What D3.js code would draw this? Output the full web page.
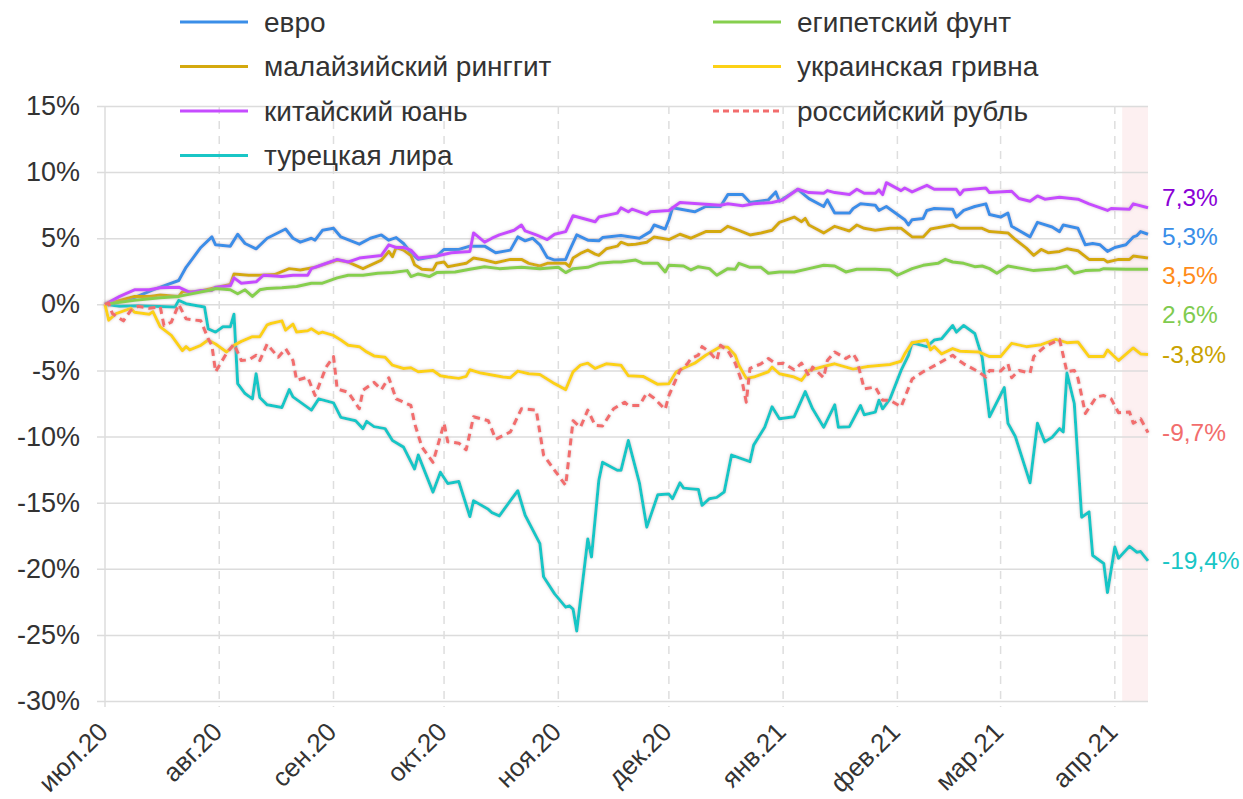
<!DOCTYPE html>
<html>
<head>
<meta charset="utf-8">
<script src="https://cdn.jsdelivr.net/npm/d3@7"></script>
<style>
  body { margin: 0; background: #fff; }
  svg { font-family: "Liberation Sans", Arial, sans-serif; }
</style>
</head>
<body>
<svg id="chart" width="1243" height="799"></svg>
<script>
// currency names in draw / legend order
names = ["евро", "малайзийский ринггит", "китайский юань", "турецкая лира",
         "египетский фунт", "украинская гривна", "российский рубль"];
lineColors = ["#3a8ee8", "#d4a90e", "#c64cff", "#19c6c6", "#86cf4e", "#fcd116", "#f26d6d"];
labelColors = ["#3a8ee8", "#ff8c1a", "#8a00d6", "#19c6c6", "#7fcb4f", "#c9a200", "#f26d6d"];
monthLabels = ["июл.20", "авг.20", "сен.20", "окт.20", "ноя.20", "дек.20",
               "янв.21", "фев.21", "мар.21", "апр.21"];
yTicks = [15, 10, 5, 0, -5, -10, -15, -20, -25, -30];
startDate = "2020-07-01";
endDate = "2021-04-10";
highlightStart = "2021-04-03";

euro = [["2020-07-01",0],["2020-07-09",0.5],["2020-07-14",1.1],["2020-07-21",1.8],["2020-07-23",2.8],["2020-07-27",4.3],["2020-07-30",5.1],["2020-07-31",4.5],["2020-08-04",4.4],["2020-08-06",5.3],["2020-08-08",4.6],["2020-08-11",4.2],["2020-08-14",5.0],["2020-08-19",5.7],["2020-08-21",5.0],["2020-08-23",4.7],["2020-08-26",5.0],["2020-08-27",4.85],["2020-08-29",5.6],["2020-09-01",5.75],["2020-09-03",5.1],["2020-09-08",4.55],["2020-09-11",5.0],["2020-09-14",5.25],["2020-09-16",4.85],["2020-09-18",5.05],["2020-09-20",4.6],["2020-09-22",3.9],["2020-09-24",3.4],["2020-09-29",3.65],["2020-10-01",4.15],["2020-10-05",4.15],["2020-10-08",4.4],["2020-10-12",4.4],["2020-10-15",3.9],["2020-10-19",4.1],["2020-10-21",5.1],["2020-10-23",4.8],["2020-10-25",5.0],["2020-10-27",4.5],["2020-10-29",3.55],["2020-10-31",3.35],["2020-11-03",3.4],["2020-11-04",4.05],["2020-11-06",5.25],["2020-11-09",4.85],["2020-11-12",4.8],["2020-11-13",5.05],["2020-11-18",5.2],["2020-11-23",5.0],["2020-11-26",5.5],["2020-11-27",6.0],["2020-11-30",5.7],["2020-12-01",6.4],["2020-12-02",7.3],["2020-12-08",7.0],["2020-12-11",7.4],["2020-12-15",7.4],["2020-12-17",8.3],["2020-12-21",8.3],["2020-12-23",7.7],["2020-12-28",7.9],["2020-12-30",8.5],["2020-12-31",7.8],["2021-01-05",8.7],["2021-01-08",8.0],["2021-01-12",7.4],["2021-01-13",7.9],["2021-01-15",6.9],["2021-01-19",6.9],["2021-01-20",7.25],["2021-01-22",7.6],["2021-01-26",7.5],["2021-01-27",7.1],["2021-01-29",7.4],["2021-02-03",6.4],["2021-02-04",6.0],["2021-02-05",6.4],["2021-02-08",6.5],["2021-02-09",7.1],["2021-02-11",7.25],["2021-02-16",7.2],["2021-02-17",6.6],["2021-02-19",7.1],["2021-02-22",7.4],["2021-02-25",7.6],["2021-02-26",6.8],["2021-03-01",6.6],["2021-03-03",6.9],["2021-03-04",5.9],["2021-03-09",5.1],["2021-03-11",6.2],["2021-03-15",5.85],["2021-03-17",5.5],["2021-03-18",6.0],["2021-03-22",5.75],["2021-03-24",4.5],["2021-03-26",4.6],["2021-03-28",4.5],["2021-03-30",4.0],["2021-04-01",4.3],["2021-04-04",4.5],["2021-04-06",5.1],["2021-04-07",5.2],["2021-04-08",5.5],["2021-04-10",5.3]];

ringgit = [["2020-07-01",0],["2020-07-05",0.3],["2020-07-09",0.6],["2020-07-13",0.6],["2020-07-16",0.7],["2020-07-21",0.6],["2020-07-22",0.95],["2020-07-26",0.95],["2020-07-30",1.2],["2020-08-04",1.5],["2020-08-05",2.3],["2020-08-09",2.2],["2020-08-12",2.2],["2020-08-16",2.25],["2020-08-20",2.7],["2020-08-23",2.6],["2020-08-27",2.8],["2020-09-02",3.35],["2020-09-05",3.2],["2020-09-09",2.7],["2020-09-14",3.35],["2020-09-16",4.0],["2020-09-17",3.6],["2020-09-18",4.3],["2020-09-20",4.1],["2020-09-22",3.7],["2020-09-23",3.0],["2020-09-25",2.65],["2020-09-28",2.6],["2020-09-29",3.1],["2020-10-01",3.2],["2020-10-02",2.85],["2020-10-07",3.1],["2020-10-09",3.5],["2020-10-12",3.35],["2020-10-15",3.15],["2020-10-19",3.4],["2020-10-22",3.4],["2020-10-24",3.1],["2020-10-27",2.9],["2020-10-29",3.1],["2020-11-03",3.1],["2020-11-04",2.85],["2020-11-05",3.5],["2020-11-07",3.85],["2020-11-09",4.1],["2020-11-11",3.8],["2020-11-12",3.7],["2020-11-14",4.2],["2020-11-17",4.4],["2020-11-18",4.7],["2020-11-20",4.5],["2020-11-22",4.55],["2020-11-25",4.7],["2020-11-27",5.1],["2020-12-01",4.9],["2020-12-04",5.3],["2020-12-07",5.0],["2020-12-11",5.5],["2020-12-15",5.5],["2020-12-17",5.9],["2020-12-20",5.6],["2020-12-23",5.25],["2020-12-26",5.4],["2020-12-29",5.6],["2020-12-31",6.2],["2021-01-04",6.6],["2021-01-06",6.25],["2021-01-07",6.5],["2021-01-08",6.0],["2021-01-12",5.4],["2021-01-15",5.9],["2021-01-19",5.55],["2021-01-21",6.0],["2021-01-23",5.75],["2021-01-26",5.6],["2021-01-30",5.75],["2021-02-02",5.75],["2021-02-05",5.1],["2021-02-08",5.1],["2021-02-10",5.7],["2021-02-16",6.0],["2021-02-18",5.75],["2021-02-24",5.75],["2021-02-26",5.5],["2021-03-03",5.4],["2021-03-05",4.9],["2021-03-08",4.25],["2021-03-10",3.7],["2021-03-12",4.15],["2021-03-14",3.9],["2021-03-17",4.0],["2021-03-19",4.2],["2021-03-22",4.05],["2021-03-25",3.4],["2021-03-29",3.4],["2021-03-30",3.2],["2021-04-02",3.4],["2021-04-05",3.4],["2021-04-06",3.65],["2021-04-10",3.5]];

yuan = [["2020-07-01",0],["2020-07-05",0.6],["2020-07-09",1.1],["2020-07-13",1.1],["2020-07-16",1.25],["2020-07-21",1.3],["2020-07-24",0.9],["2020-07-27",1.05],["2020-07-30",1.05],["2020-07-31",1.3],["2020-08-04",1.4],["2020-08-05",2.0],["2020-08-07",1.6],["2020-08-11",1.7],["2020-08-13",2.2],["2020-08-18",2.1],["2020-08-21",2.2],["2020-08-25",2.2],["2020-08-26",2.7],["2020-08-28",2.9],["2020-09-02",3.4],["2020-09-05",3.2],["2020-09-08",3.5],["2020-09-14",3.7],["2020-09-16",4.5],["2020-09-18",4.3],["2020-09-20",4.3],["2020-09-22",4.1],["2020-09-24",3.5],["2020-09-29",3.65],["2020-10-03",3.9],["2020-10-08",4.0],["2020-10-09",5.4],["2020-10-12",4.7],["2020-10-14",5.0],["2020-10-16",5.25],["2020-10-20",5.6],["2020-10-22",6.0],["2020-10-23",5.55],["2020-10-26",5.25],["2020-10-29",4.9],["2020-10-31",5.3],["2020-11-03",5.5],["2020-11-05",6.7],["2020-11-09",6.4],["2020-11-11",6.25],["2020-11-12",6.6],["2020-11-17",6.9],["2020-11-18",7.3],["2020-11-20",7.0],["2020-11-21",7.2],["2020-11-25",6.8],["2020-11-26",7.0],["2020-12-01",7.1],["2020-12-04",7.7],["2020-12-09",7.6],["2020-12-15",7.5],["2020-12-17",7.6],["2020-12-21",7.45],["2020-12-24",7.6],["2020-12-29",7.7],["2021-01-01",7.9],["2021-01-05",8.7],["2021-01-08",8.45],["2021-01-12",8.4],["2021-01-13",8.6],["2021-01-15",8.45],["2021-01-19",8.3],["2021-01-21",8.7],["2021-01-23",8.4],["2021-01-26",8.4],["2021-01-27",8.65],["2021-01-28",8.3],["2021-01-29",9.2],["2021-02-02",8.6],["2021-02-03",8.8],["2021-02-05",8.5],["2021-02-09",9.0],["2021-02-11",8.7],["2021-02-17",8.7],["2021-02-18",8.3],["2021-02-19",8.65],["2021-02-25",8.8],["2021-02-26",8.45],["2021-03-04",8.55],["2021-03-06",8.0],["2021-03-09",7.8],["2021-03-11",8.2],["2021-03-13",7.95],["2021-03-17",8.1],["2021-03-22",7.95],["2021-03-25",7.6],["2021-03-30",7.1],["2021-03-31",7.25],["2021-04-05",7.2],["2021-04-06",7.6],["2021-04-10",7.3]];

lira = [["2020-07-01",0],["2020-07-05",-0.15],["2020-07-10",-0.1],["2020-07-20",-0.2],["2020-07-21",0.3],["2020-07-23",0.05],["2020-07-26",-0.1],["2020-07-28",-0.2],["2020-07-29",-1.85],["2020-07-31",-2.1],["2020-08-02",-1.7],["2020-08-04",-1.7],["2020-08-05",-0.75],["2020-08-06",-6.0],["2020-08-08",-6.75],["2020-08-10",-7.15],["2020-08-11",-5.25],["2020-08-12",-7.05],["2020-08-14",-7.6],["2020-08-18",-7.8],["2020-08-20",-6.45],["2020-08-21",-7.0],["2020-08-26",-8.0],["2020-08-28",-7.15],["2020-09-01",-7.45],["2020-09-03",-8.55],["2020-09-07",-8.8],["2020-09-09",-9.4],["2020-09-10",-8.85],["2020-09-12",-9.25],["2020-09-15",-9.4],["2020-09-17",-10.3],["2020-09-20",-10.8],["2020-09-23",-12.45],["2020-09-24",-11.4],["2020-09-26",-12.8],["2020-09-28",-14.2],["2020-09-30",-12.7],["2020-10-02",-13.55],["2020-10-05",-13.4],["2020-10-08",-16.05],["2020-10-09",-14.85],["2020-10-13",-15.5],["2020-10-14",-15.75],["2020-10-16",-16.0],["2020-10-19",-14.85],["2020-10-21",-14.1],["2020-10-23",-15.95],["2020-10-27",-18.1],["2020-10-28",-20.6],["2020-10-31",-21.9],["2020-11-03",-22.9],["2020-11-04",-22.8],["2020-11-05",-23.05],["2020-11-06",-24.7],["2020-11-09",-17.75],["2020-11-10",-19.1],["2020-11-12",-13.3],["2020-11-13",-11.95],["2020-11-17",-12.55],["2020-11-18",-12.55],["2020-11-20",-10.3],["2020-11-23",-13.5],["2020-11-25",-16.85],["2020-11-28",-14.4],["2020-12-01",-14.35],["2020-12-02",-14.7],["2020-12-04",-13.5],["2020-12-05",-13.9],["2020-12-09",-14.0],["2020-12-10",-15.2],["2020-12-12",-14.7],["2020-12-14",-14.6],["2020-12-16",-14.2],["2020-12-18",-11.4],["2020-12-23",-11.9],["2020-12-24",-10.65],["2020-12-27",-9.3],["2020-12-29",-7.75],["2020-12-31",-8.65],["2021-01-04",-8.5],["2021-01-07",-6.6],["2021-01-09",-7.9],["2021-01-12",-9.3],["2021-01-15",-7.6],["2021-01-16",-9.3],["2021-01-19",-9.25],["2021-01-22",-7.65],["2021-01-23",-8.35],["2021-01-26",-8.15],["2021-01-27",-7.25],["2021-01-28",-7.9],["2021-01-30",-7.15],["2021-02-02",-5.0],["2021-02-04",-3.85],["2021-02-05",-2.9],["2021-02-09",-3.2],["2021-02-11",-2.7],["2021-02-13",-2.6],["2021-02-16",-1.6],["2021-02-17",-2.1],["2021-02-19",-1.6],["2021-02-22",-2.2],["2021-02-24",-4.0],["2021-02-26",-8.5],["2021-03-02",-6.3],["2021-03-03",-9.0],["2021-03-05",-10.0],["2021-03-09",-13.5],["2021-03-11",-9.0],["2021-03-13",-10.4],["2021-03-15",-10.05],["2021-03-17",-9.4],["2021-03-18",-9.65],["2021-03-19",-5.2],["2021-03-21",-7.5],["2021-03-23",-16.1],["2021-03-25",-15.7],["2021-03-26",-19.0],["2021-03-29",-19.6],["2021-03-30",-21.8],["2021-04-01",-18.35],["2021-04-02",-19.2],["2021-04-05",-18.3],["2021-04-07",-18.75],["2021-04-08",-18.7],["2021-04-10",-19.4]];

pound = [["2020-07-01",0],["2020-07-09",0.3],["2020-07-16",0.5],["2020-07-21",0.6],["2020-07-30",1.1],["2020-07-31",1.2],["2020-08-04",1.1],["2020-08-06",0.8],["2020-08-08",1.1],["2020-08-10",0.6],["2020-08-12",1.1],["2020-08-14",1.2],["2020-08-18",1.25],["2020-08-22",1.35],["2020-08-26",1.6],["2020-08-29",1.6],["2020-09-02",2.0],["2020-09-05",2.2],["2020-09-09",2.2],["2020-09-13",2.35],["2020-09-17",2.4],["2020-09-21",2.55],["2020-09-22",2.1],["2020-09-24",2.3],["2020-09-27",2.1],["2020-09-29",2.4],["2020-10-04",2.45],["2020-10-08",2.65],["2020-10-12",2.85],["2020-10-16",2.7],["2020-10-22",2.8],["2020-10-27",2.7],["2020-11-01",2.8],["2020-11-03",2.4],["2020-11-05",2.7],["2020-11-09",2.8],["2020-11-12",3.1],["2020-11-16",3.2],["2020-11-18",3.2],["2020-11-22",3.35],["2020-11-24",3.1],["2020-11-28",3.1],["2020-11-30",2.45],["2020-12-01",2.95],["2020-12-05",2.9],["2020-12-07",2.6],["2020-12-09",2.85],["2020-12-12",2.7],["2020-12-14",2.2],["2020-12-17",2.7],["2020-12-19",2.65],["2020-12-20",3.1],["2020-12-23",2.8],["2020-12-26",2.8],["2020-12-28",2.35],["2020-12-31",2.45],["2021-01-04",2.45],["2021-01-08",2.7],["2021-01-12",2.95],["2021-01-15",2.9],["2021-01-18",2.45],["2021-01-21",2.65],["2021-01-26",2.65],["2021-01-30",2.6],["2021-02-01",2.2],["2021-02-05",2.7],["2021-02-08",2.95],["2021-02-12",3.1],["2021-02-14",3.4],["2021-02-16",3.2],["2021-02-19",3.1],["2021-02-22",2.85],["2021-02-24",2.9],["2021-02-26",2.7],["2021-02-28",2.35],["2021-03-03",2.9],["2021-03-07",2.7],["2021-03-10",2.55],["2021-03-16",2.7],["2021-03-19",2.9],["2021-03-21",2.35],["2021-03-24",2.55],["2021-03-28",2.6],["2021-03-29",2.7],["2021-04-04",2.65],["2021-04-10",2.65]];

hryvnia = [["2020-07-01",0],["2020-07-02",-1.2],["2020-07-04",-0.7],["2020-07-08",-0.3],["2020-07-09",-0.6],["2020-07-13",-0.75],["2020-07-14",-0.55],["2020-07-16",-1.7],["2020-07-19",-2.35],["2020-07-22",-3.5],["2020-07-23",-3.2],["2020-07-24",-3.45],["2020-07-27",-3.1],["2020-07-29",-2.7],["2020-07-31",-3.0],["2020-08-03",-3.6],["2020-08-05",-3.1],["2020-08-07",-2.8],["2020-08-10",-2.45],["2020-08-12",-2.45],["2020-08-14",-1.55],["2020-08-15",-1.45],["2020-08-18",-1.25],["2020-08-19",-1.95],["2020-08-21",-1.5],["2020-08-22",-2.1],["2020-08-25",-2.0],["2020-08-26",-1.85],["2020-08-28",-2.2],["2020-08-29",-2.1],["2020-09-01",-2.35],["2020-09-03",-2.7],["2020-09-05",-3.1],["2020-09-08",-3.2],["2020-09-10",-3.6],["2020-09-12",-3.9],["2020-09-15",-4.0],["2020-09-17",-4.6],["2020-09-20",-4.85],["2020-09-22",-4.8],["2020-09-24",-5.1],["2020-09-28",-5.0],["2020-09-30",-5.4],["2020-10-02",-5.5],["2020-10-05",-5.6],["2020-10-07",-5.45],["2020-10-08",-4.95],["2020-10-11",-5.2],["2020-10-17",-5.5],["2020-10-19",-5.55],["2020-10-21",-5.05],["2020-10-24",-5.25],["2020-10-27",-5.3],["2020-10-31",-6.0],["2020-11-03",-6.45],["2020-11-05",-5.1],["2020-11-07",-4.6],["2020-11-09",-4.45],["2020-11-11",-4.85],["2020-11-14",-4.5],["2020-11-18",-4.6],["2020-11-20",-5.4],["2020-11-24",-5.45],["2020-11-28",-6.05],["2020-12-01",-6.0],["2020-12-03",-5.1],["2020-12-06",-4.7],["2020-12-08",-4.45],["2020-12-11",-3.85],["2020-12-15",-3.2],["2020-12-17",-3.25],["2020-12-19",-3.85],["2020-12-20",-4.6],["2020-12-22",-5.6],["2020-12-24",-5.5],["2020-12-28",-5.1],["2020-12-29",-4.75],["2020-12-31",-5.25],["2021-01-04",-5.5],["2021-01-06",-5.75],["2021-01-08",-5.0],["2021-01-12",-4.7],["2021-01-15",-4.5],["2021-01-20",-4.9],["2021-01-24",-4.7],["2021-01-30",-4.55],["2021-02-02",-4.3],["2021-02-03",-3.75],["2021-02-05",-2.9],["2021-02-09",-2.7],["2021-02-10",-3.45],["2021-02-11",-3.2],["2021-02-13",-3.75],["2021-02-16",-3.35],["2021-02-18",-3.55],["2021-02-23",-3.6],["2021-02-26",-3.95],["2021-03-01",-3.95],["2021-03-04",-2.95],["2021-03-08",-3.2],["2021-03-12",-3.05],["2021-03-16",-2.65],["2021-03-19",-2.9],["2021-03-22",-2.85],["2021-03-25",-3.95],["2021-03-29",-3.95],["2021-03-30",-3.45],["2021-04-02",-4.25],["2021-04-06",-3.3],["2021-04-08",-3.75],["2021-04-10",-3.8]];

ruble = [["2020-07-01",0],["2020-07-02",0.1],["2020-07-03",-0.7],["2020-07-06",-1.25],["2020-07-08",-0.45],["2020-07-10",-0.15],["2020-07-13",-0.3],["2020-07-16",-0.2],["2020-07-17",-1.6],["2020-07-19",-1.35],["2020-07-21",0.0],["2020-07-23",-1.1],["2020-07-27",-1.25],["2020-07-29",-2.6],["2020-07-30",-3.1],["2020-07-31",-5.1],["2020-08-03",-3.7],["2020-08-05",-3.0],["2020-08-07",-4.25],["2020-08-09",-4.2],["2020-08-11",-3.85],["2020-08-12",-4.25],["2020-08-14",-3.0],["2020-08-15",-3.35],["2020-08-17",-4.0],["2020-08-19",-3.35],["2020-08-21",-4.25],["2020-08-22",-5.75],["2020-08-25",-5.5],["2020-08-27",-6.9],["2020-08-30",-4.75],["2020-09-01",-3.95],["2020-09-02",-6.4],["2020-09-05",-6.65],["2020-09-08",-7.9],["2020-09-09",-6.5],["2020-09-12",-5.9],["2020-09-14",-6.45],["2020-09-16",-5.55],["2020-09-18",-7.15],["2020-09-22",-7.65],["2020-09-23",-9.0],["2020-09-25",-10.8],["2020-09-28",-11.95],["2020-10-01",-9.0],["2020-10-02",-10.4],["2020-10-05",-10.5],["2020-10-07",-11.0],["2020-10-09",-8.5],["2020-10-13",-8.8],["2020-10-15",-10.2],["2020-10-19",-9.65],["2020-10-22",-7.9],["2020-10-26",-8.0],["2020-10-28",-11.4],["2020-10-31",-12.55],["2020-11-03",-13.7],["2020-11-05",-8.8],["2020-11-07",-9.3],["2020-11-09",-8.0],["2020-11-11",-9.15],["2020-11-13",-9.2],["2020-11-16",-7.9],["2020-11-19",-7.4],["2020-11-20",-7.65],["2020-11-23",-7.65],["2020-11-25",-6.7],["2020-11-27",-7.1],["2020-11-30",-7.95],["2020-12-01",-6.9],["2020-12-04",-5.0],["2020-12-06",-4.5],["2020-12-07",-4.1],["2020-12-09",-3.85],["2020-12-10",-3.2],["2020-12-12",-3.6],["2020-12-14",-4.25],["2020-12-15",-3.1],["2020-12-17",-3.5],["2020-12-19",-4.45],["2020-12-21",-6.0],["2020-12-22",-7.4],["2020-12-23",-4.85],["2020-12-26",-4.5],["2020-12-28",-4.1],["2020-12-30",-4.5],["2021-01-01",-4.45],["2021-01-04",-4.95],["2021-01-06",-4.45],["2021-01-08",-5.4],["2021-01-09",-4.75],["2021-01-12",-5.55],["2021-01-13",-4.25],["2021-01-15",-3.6],["2021-01-18",-4.1],["2021-01-20",-3.75],["2021-01-21",-4.2],["2021-01-23",-6.4],["2021-01-26",-6.25],["2021-01-28",-7.25],["2021-01-30",-7.25],["2021-02-02",-7.75],["2021-02-05",-5.65],["2021-02-08",-5.1],["2021-02-12",-4.5],["2021-02-16",-3.85],["2021-02-17",-4.1],["2021-02-19",-4.5],["2021-02-23",-5.1],["2021-02-25",-5.5],["2021-02-26",-5.0],["2021-03-01",-5.05],["2021-03-03",-4.5],["2021-03-04",-5.55],["2021-03-06",-5.0],["2021-03-09",-5.2],["2021-03-10",-3.95],["2021-03-13",-3.2],["2021-03-17",-2.65],["2021-03-19",-5.1],["2021-03-21",-5.0],["2021-03-22",-5.6],["2021-03-24",-8.25],["2021-03-27",-7.0],["2021-03-29",-6.9],["2021-03-31",-7.15],["2021-04-02",-8.2],["2021-04-05",-8.15],["2021-04-06",-9.0],["2021-04-08",-8.65],["2021-04-10",-9.7]];

seriesValues = [euro, ringgit, yuan, lira, pound, hryvnia, ruble];

parse = d3.timeParse("%Y-%m-%d");

let svg = d3.select("#chart");
let margin = {left: 105, right: 95, top: 106, bottom: 98};
let width = 1243 - margin.left - margin.right;
let height = 799 - margin.top - margin.bottom;

let x = d3.scaleTime()
    .domain([parse(startDate), parse(endDate)])
    .range([0, width]);
let y = d3.scaleLinear()
    .domain([-30, 15])
    .range([height, 0]);

// soft halo under the lines
let defs = svg.append("defs");
let glow = defs.append("filter").attr("id", "halo")
    .attr("x", "-5%").attr("y", "-20%").attr("width", "110%").attr("height", "140%");
glow.append("feDropShadow")
    .attr("dx", 0).attr("dy", 0).attr("stdDeviation", 1.8)
    .attr("flood-color", "#b9a3a8").attr("flood-opacity", 0.6);

let g = svg.append("g").attr("transform", `translate(${margin.left},${margin.top})`);

// highlighted last days
g.append("rect")
    .attr("x", x(parse(highlightStart)))
    .attr("y", 0)
    .attr("width", x(parse(endDate)) - x(parse(highlightStart)))
    .attr("height", height)
    .attr("fill", "#fdf0f1");

// horizontal grid + y labels
let yAxis = d3.axisLeft(y)
    .tickValues(yTicks)
    .tickSize(-(width + 8))
    .tickPadding(17)
    .tickFormat(d => d + "%");
g.append("g")
    .attr("transform", "translate(-8,0)")
    .call(yAxis)
    .call(s => s.select(".domain").remove())
    .call(s => s.selectAll(".tick line").attr("stroke", "#dcdcdc").attr("stroke-width", 1.5))
    .call(s => s.selectAll(".tick text")
        .attr("fill", "#333").attr("font-size", 27)
        .attr("font-family", "'Liberation Sans', Arial, sans-serif"));

// vertical month grid
let months = d3.timeMonth.range(parse(startDate), parse(endDate));
g.append("g").selectAll("line")
    .data(months.slice(1))
    .join("line")
    .attr("x1", d => x(d)).attr("x2", d => x(d))
    .attr("y1", 0).attr("y2", height + 6)
    .attr("stroke", "#dedede")
    .attr("stroke-width", 1.5)
    .attr("stroke-dasharray", "8,7");
g.append("line")
    .attr("x1", 0).attr("x2", 0)
    .attr("y1", 0).attr("y2", height + 6)
    .attr("stroke", "#dcdcdc").attr("stroke-width", 1.5);

// x labels
g.append("g").selectAll("text")
    .data(months)
    .join("text")
    .attr("transform", d => `translate(${x(d) - 2},${height + 26}) rotate(-45)`)
    .attr("text-anchor", "end")
    .attr("dy", "0.35em")
    .attr("font-size", 26)
    .attr("fill", "#333")
    .text((d, i) => monthLabels[i]);

// lines
let line = d3.line()
    .x(d => x(parse(d[0])))
    .y(d => y(d[1]));

let lines = g.append("g").attr("fill", "none");
seriesValues.forEach((vals, i) => {
    let data = d3.sort(vals, d => parse(d[0]));
    lines.append("path")
        .datum(data)
        .attr("d", line)
        .attr("stroke", lineColors[i])
        .attr("stroke-width", 3)
        .attr("stroke-linejoin", "round")
        .attr("stroke-dasharray", i == 6 ? "7,5" : null)
        .attr("filter", "url(#halo)");
});

// end labels, dodged top-down
let ends = seriesValues.map((vals, i) => ({i: i, v: vals[vals.length - 1][1]}));
ends.sort((a, b) => b.v - a.v);
let prev = -Infinity;
ends.forEach((e, k) => {
    let yy = y(e.v) - (k == 0 ? 10 : 0);
    yy = Math.max(yy, prev + 39);
    prev = yy;
    e.y = yy;
});
g.append("g").selectAll("text")
    .data(ends)
    .join("text")
    .attr("x", width + 14)
    .attr("y", d => d.y)
    .attr("dy", "0.35em")
    .attr("font-size", 24.5)
    .attr("fill", d => labelColors[d.i])
    .text(d => d3.format(".1f")(d.v).replace(".", ",").replace("−", "-") + "%");

// legend, two columns
let legend = svg.append("g").attr("font-size", 28).attr("fill", "#333");
names.forEach((name, i) => {
    let col = i < 4 ? 0 : 1;
    let row = i < 4 ? i : i - 4;
    let lx = col == 0 ? 180 : 713;
    let ly = 22 + row * 44.5;
    legend.append("line")
        .attr("x1", lx).attr("x2", lx + 68)
        .attr("y1", ly).attr("y2", ly)
        .attr("stroke", lineColors[i])
        .attr("stroke-width", 3)
        .attr("stroke-dasharray", i == 6 ? "6,4" : null);
    legend.append("text")
        .attr("x", lx + 84).attr("y", ly)
        .attr("dy", "0.35em")
        .text(name);
});
</script>
</body>
</html>
